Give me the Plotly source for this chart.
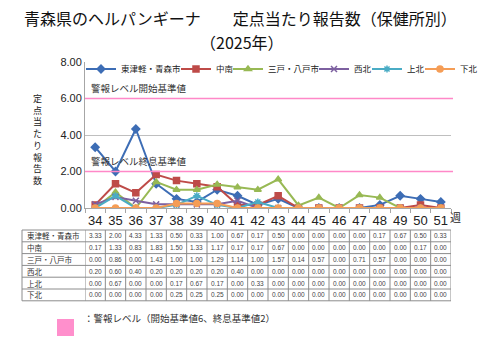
import plotly.graph_objects as go

weeks = [str(w) for w in range(34, 52)]
series_names = ["東津軽・青森市", "中南", "三戸・八戸市", "西北", "上北", "下北"]
higashitsugaru = [3.33, 2.00, 4.33, 1.33, 0.50, 0.33, 1.00, 0.67, 0.17, 0.50, 0.00, 0.00, 0.00, 0.00, 0.17, 0.67, 0.50, 0.33]
chunan = [0.17, 1.33, 0.83, 1.83, 1.50, 1.33, 1.17, 0.17, 0.17, 0.67, 0.00, 0.00, 0.00, 0.00, 0.00, 0.00, 0.17, 0.00]
sannohe = [0.00, 0.86, 0.00, 1.43, 1.00, 1.00, 1.29, 1.14, 1.00, 1.57, 0.14, 0.57, 0.00, 0.71, 0.57, 0.00, 0.00, 0.00]
seihoku = [0.20, 0.60, 0.40, 0.20, 0.20, 0.20, 0.20, 0.40, 0.00, 0.00, 0.00, 0.00, 0.00, 0.00, 0.00, 0.00, 0.00, 0.00]
kamikita = [0.00, 0.67, 0.00, 0.00, 0.17, 0.67, 0.17, 0.00, 0.33, 0.00, 0.00, 0.00, 0.00, 0.00, 0.00, 0.00, 0.00, 0.00]
shimokita = [0.00, 0.00, 0.00, 0.00, 0.25, 0.25, 0.25, 0.00, 0.00, 0.00, 0.00, 0.00, 0.00, 0.00, 0.00, 0.00, 0.00, 0.00]
series_values = [higashitsugaru, chunan, sannohe, seihoku, kamikita, shimokita]
alert_start = 6
alert_end = 2

colors = ["#3d6db5", "#be4b48", "#98b954", "#7d60a0", "#4aacc5", "#f59d56"]
symbols = ["diamond", "square", "triangle-up", "x-thin", "asterisk", "circle"]

W, H = 480, 360
FONT = "Noto Sans CJK JP"
LEG_FONT = 8.5
# legend line-start pixel positions
leg_starts = [86, 181, 233, 319, 372, 425]

fig = go.Figure()
legend_ids = ["legend", "legend2", "legend3", "legend4", "legend5", "legend6"]
for name, vals, c, s, lid in zip(series_names, series_values, colors, symbols, legend_ids):
    fig.add_trace(go.Scatter(
        x=weeks, y=vals, name=name, mode="lines+markers",
        line=dict(color=c, width=2),
        marker=dict(symbol=s, size=6, color=c, line=dict(color=c, width=1.5)),
        legend=lid,
    ))

# ---- table below chart (cells placed through the x axis) ----
TBL_TOP, ROW_H = 230, 11.8
TBL_LEFT, TBL_RIGHT = 22, 451
n_rows = len(series_names)
grid = "#8c8c8c"
for r in range(n_rows + 1):
    yp = 1 - (TBL_TOP + r * ROW_H) / H
    fig.add_shape(type="line", xref="paper", yref="paper", x0=TBL_LEFT / W, x1=TBL_RIGHT / W,
                  y0=yp, y1=yp, line=dict(color=grid, width=1))
y_top = 1 - TBL_TOP / H
y_bot = 1 - (TBL_TOP + n_rows * ROW_H) / H
fig.add_shape(type="line", xref="paper", yref="paper", x0=TBL_LEFT / W, x1=TBL_LEFT / W,
              y0=y_bot, y1=y_top, line=dict(color=grid, width=1))
for i in range(len(weeks) + 1):
    fig.add_shape(type="line", xref="x", yref="paper", x0=i - 0.5, x1=i - 0.5,
                  y0=y_bot, y1=y_top, line=dict(color=grid, width=1))
for r, (name, vals) in enumerate(zip(series_names, series_values)):
    yc = 1 - (TBL_TOP + (r + 0.5) * ROW_H) / H
    fig.add_annotation(x=(TBL_LEFT + 3) / W, y=yc, xref="paper", yref="paper", text=name,
                       showarrow=False, xanchor="left", yanchor="middle",
                       font=dict(size=7.5, color="#333", family=FONT))
    for i, v in enumerate(vals):
        fig.add_annotation(x=i, y=yc, xref="x", yref="paper", text=f"{v:.2f}",
                           showarrow=False, xanchor="center", yanchor="middle",
                           font=dict(size=6.5, color="#444", family="Liberation Sans"))

# alert lines
for yv in [alert_start, alert_end]:
    fig.add_shape(type="line", xref="paper", yref="y", x0=85 / W, x1=453 / W, y0=yv, y1=yv,
                  line=dict(color="#ff88c8", width=1.6))

fig.add_annotation(x=89 / W, y=alert_start, xref="paper", yref="y", text="警報レベル開始基準値",
                   showarrow=False, xanchor="left", yanchor="bottom", yshift=2,
                   font=dict(size=9.5, color="#333", family=FONT))
fig.add_annotation(x=89 / W, y=alert_end, xref="paper", yref="y", text="警報レベル終息基準値",
                   showarrow=False, xanchor="left", yanchor="bottom", yshift=2,
                   font=dict(size=9.5, color="#333", family=FONT))

# y axis title (vertical stacked characters)
fig.add_annotation(x=31 / W, y=1 - 139 / H, xref="paper", yref="paper",
                   text="<br>".join("定点当たり報告数"), showarrow=False, yanchor="middle",
                   font=dict(size=9, color="#222", family=FONT))

# week label
fig.add_annotation(x=463 / W, y=1 - 217 / H, xref="paper", yref="paper", text="週",
                   showarrow=False, font=dict(size=11, color="#222", family=FONT))

# title
fig.add_annotation(x=0.5, y=1 - 18 / H, xref="paper", yref="paper",
                   text="青森県のヘルパンギーナ　　定点当たり報告数（保健所別）",
                   showarrow=False, yanchor="middle", font=dict(size=16, color="#111", family=FONT))
fig.add_annotation(x=242 / W, y=1 - 42 / H, xref="paper", yref="paper", text="（2025年）",
                   showarrow=False, yanchor="middle", font=dict(size=16, color="#111", family=FONT))

# bottom legend swatch
fig.add_shape(type="rect", xref="paper", yref="paper", x0=57 / W, x1=74 / W,
              y0=1 - 336 / H, y1=1 - 319 / H, fillcolor="#ff8fcc", line=dict(width=0))
fig.add_annotation(x=82 / W, y=1 - 327 / H, xref="paper", yref="paper",
                   text="：警報レベル（開始基準値6、終息基準値2）", showarrow=False, xanchor="left",
                   font=dict(size=9.5, color="#333", family=FONT))

layout_legends = {}
for lid, L in zip(legend_ids, leg_starts):
    layout_legends[lid] = dict(orientation="h", x=(L - 5) / W, y=1 - 69 / H,
                               xanchor="left", yanchor="middle",
                               font=dict(size=LEG_FONT, color="#222", family=FONT),
                               bgcolor="rgba(0,0,0,0)", itemwidth=30,
                               borderwidth=0)

fig.update_layout(
    width=W, height=H,
    margin=dict(l=0, r=0, t=0, b=0, autoexpand=False),
    paper_bgcolor="white", plot_bgcolor="white",
    font=dict(family=FONT, color="#222"),
    xaxis=dict(domain=[85 / W, 451 / W], type="category", range=[-0.5, 17.5],
               automargin=False, tickangle=0,
               showticklabels=True, ticks="outside", tickson="boundaries", ticklen=4,
               tickcolor="#a6a6a6", showline=True, linecolor="#a6a6a6", showgrid=False,
               tickfont=dict(size=13, color="#222", family="Liberation Sans")),
    yaxis=dict(domain=[1 - 208 / H, 1 - 62 / H], range=[0, 8], dtick=2, tickformat=".2f",
               automargin=False,
               showgrid=True, gridcolor="#bfbfbf", showline=True, linecolor="#a6a6a6",
               zeroline=False, ticks="", tickfont=dict(size=11, color="#222", family="Liberation Sans")),
    showlegend=True,
    **layout_legends,
)

fig.write_html("out.html", config={"displayModeBar": False},
               post_script="document.body.style.margin='0px';")
